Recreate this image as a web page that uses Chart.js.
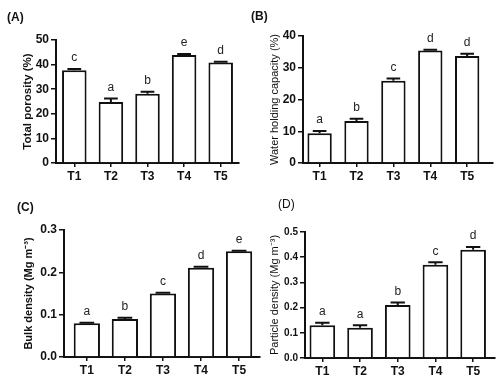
<!DOCTYPE html>
<html>
<head>
<meta charset="utf-8">
<script src="https://cdn.jsdelivr.net/npm/chart.js@4/dist/chart.umd.min.js"></script>
<style>
body { margin: 0; background: #fff; }
#page { position: relative; width: 497px; height: 377px; overflow: hidden; font-family: "Liberation Sans", Arial, sans-serif; }
.panel { position: absolute; }
.tag { position: absolute; font-size: 12px; font-weight: bold; color: #111; line-height: 14px; }
</style>
</head>
<body>
<div id="page">
  <div class="panel" style="left:0;top:0;width:248px;height:188px"><canvas id="chartA"></canvas></div>
  <div class="panel" style="left:248px;top:0;width:249px;height:188px"><canvas id="chartB"></canvas></div>
  <div class="panel" style="left:0;top:188px;width:264px;height:189px"><canvas id="chartC"></canvas></div>
  <div class="panel" style="left:248px;top:188px;width:249px;height:189px"><canvas id="chartD"></canvas></div>
  <div class="tag" style="left:7px;top:10px">(A)</div>
  <div class="tag" style="left:251px;top:9px">(B)</div>
  <div class="tag" style="left:17px;top:200px">(C)</div>
  <div class="tag" style="left:278px;top:197px;font-weight:normal">(D)</div>
</div>
<script>
const treatments = ["T1", "T2", "T3", "T4", "T5"];

// (A) total porosity
const porosity = [37.7, 24.8, 28.1, 43.9, 40.9];
const porosityErr = [0.5, 1.4, 0.9, 0.4, 0.3];
const porosityLetters = ["c", "a", "b", "e", "d"];

// (B) water holding capacity
const waterHolding = [9.4, 13.2, 25.9, 35.4, 33.7];
const waterHoldingErr = [0.7, 0.7, 0.7, 0.3, 0.7];
const waterHoldingLetters = ["a", "b", "c", "d", "d"];

// (C) bulk density
const bulkDensity = [0.080, 0.090, 0.150, 0.211, 0.250];
const bulkDensityErr = [0.001, 0.003, 0.002, 0.002, 0.001];
const bulkDensityLetters = ["a", "b", "c", "d", "e"];

// (D) particle density
const particleDensity = [0.13, 0.12, 0.21, 0.37, 0.43];
const particleDensityErr = [0.01, 0.01, 0.01, 0.01, 0.01];
const particleDensityLetters = ["a", "a", "b", "c", "d"];

const FONT = "'Liberation Sans', Arial, sans-serif";
Chart.defaults.font.family = FONT;
Chart.defaults.color = "#111";

// error bar (upper only) + significance letter above each bar
function errorBars(values, errors, letters){
    return {
        id: "errorBars",
        afterDatasetsDraw(chart){
            const ctx = chart.ctx;
            const y = chart.scales.y;
            const meta = chart.getDatasetMeta(0);
            ctx.save();
            ctx.strokeStyle = "#111";
            ctx.lineWidth = 2;
            ctx.fillStyle = "#222";
            ctx.font = "12px " + FONT;
            ctx.textAlign = "center";
            ctx.textBaseline = "bottom";
            meta.data.forEach(function(bar, i){
                const y0 = y.getPixelForValue(values[i]);
                const y1 = y.getPixelForValue(values[i] + errors[i]);
                const half = bar.width * 0.28;
                ctx.beginPath();
                ctx.moveTo(bar.x, y0);
                ctx.lineTo(bar.x, y1);
                ctx.moveTo(bar.x - half, y1);
                ctx.lineTo(bar.x + half, y1);
                ctx.stroke();
                ctx.fillText(letters[i], bar.x, y1 - 5);
            });
            ctx.restore();
        }
    };
}

function makePanel(id, p){
    return new Chart(document.getElementById(id), {
        type: "bar",
        data: {
            datasets: [{
                data: p.values.map((v, i) => ({x: i + 1, y: v})),
                backgroundColor: "#fff",
                borderColor: "#111",
                borderWidth: 2,
                barPercentage: p.barPct,
                categoryPercentage: 1
            }]
        },
        options: {
            responsive: true,
            maintainAspectRatio: false,
            animation: false,
            layout: {padding: {left: p.padLeft, top: p.padTop, right: p.padRight, bottom: 0}},
            plugins: {legend: {display: false}, tooltip: {enabled: false}},
            scales: {
                x: {
                    type: "linear",
                    min: p.xMin,
                    max: p.xMax,
                    offset: false,
                    afterBuildTicks: s => { s.ticks = treatments.map((t, i) => ({value: i + 1})); },
                    afterFit: s => { s.height = p.xHeight; },
                    ticks: {
                        callback: (v, i) => treatments[i],
                        font: {size: 12, weight: "bold"},
                        color: "#111",
                        padding: 2,
                        maxRotation: 0,
                        autoSkip: false
                    },
                    grid: {display: true, drawOnChartArea: false, drawTicks: true, tickLength: 4, color: "#111", lineWidth: 1.5, offset: false},
                    border: {display: true, color: "#111", width: 2}
                },
                y: {
                    min: 0,
                    max: p.yMax,
                    afterFit: s => { s.width = p.yWidth; },
                    ticks: {
                        stepSize: p.step,
                        callback: v => v.toFixed(p.decimals),
                        font: {size: p.tickSize, weight: "bold"},
                        color: "#111",
                        padding: 2
                    },
                    grid: {display: true, drawOnChartArea: false, drawTicks: true, tickLength: 5, color: "#111", lineWidth: 1.5},
                    border: {display: true, color: "#111", width: 2},
                    title: {
                        display: true,
                        text: p.title,
                        color: "#111",
                        padding: 0,
                        font: {size: p.titleSize, weight: p.titleWeight}
                    }
                }
            }
        },
        plugins: [errorBars(p.values, p.errors, p.letters)]
    });
}

makePanel("chartA", {
    values: porosity, errors: porosityErr, letters: porosityLetters,
    title: "Total porosity (%)", titleSize: 11.5, titleWeight: "bold",
    yMax: 50, step: 10, decimals: 0, tickSize: 12,
    xMin: 0.5, xMax: 5.5, barPct: 0.67,
    padLeft: 21, padTop: 40, padRight: 9, yWidth: 35, xHeight: 25
});

makePanel("chartB", {
    values: waterHolding, errors: waterHoldingErr, letters: waterHoldingLetters,
    title: "Water holding capacity (%)", titleSize: 11, titleWeight: "normal",
    yMax: 40, step: 10, decimals: 0, tickSize: 12,
    xMin: 0.55, xMax: 5.7, barPct: 0.66,
    padLeft: 20, padTop: 36, padRight: 4, yWidth: 35, xHeight: 25
});

makePanel("chartC", {
    values: bulkDensity, errors: bulkDensityErr, letters: bulkDensityLetters,
    title: "Bulk density (Mg m\u207B\u00B3)", titleSize: 11, titleWeight: "bold",
    yMax: 0.3, step: 0.1, decimals: 1, tickSize: 12,
    xMin: 0.4, xMax: 5.55, barPct: 0.69,
    padLeft: 22, padTop: 42, padRight: 4, yWidth: 42, xHeight: 20
});

makePanel("chartD", {
    values: particleDensity, errors: particleDensityErr, letters: particleDensityLetters,
    title: "Particle density (Mg m\u207B\u00B3)", titleSize: 11, titleWeight: "normal",
    yMax: 0.5, step: 0.1, decimals: 1, tickSize: 10,
    xMin: 0.54, xMax: 5.58, barPct: 0.68,
    padLeft: 20, padTop: 44, padRight: 2, yWidth: 37, xHeight: 19
});
</script>
</body>
</html>
